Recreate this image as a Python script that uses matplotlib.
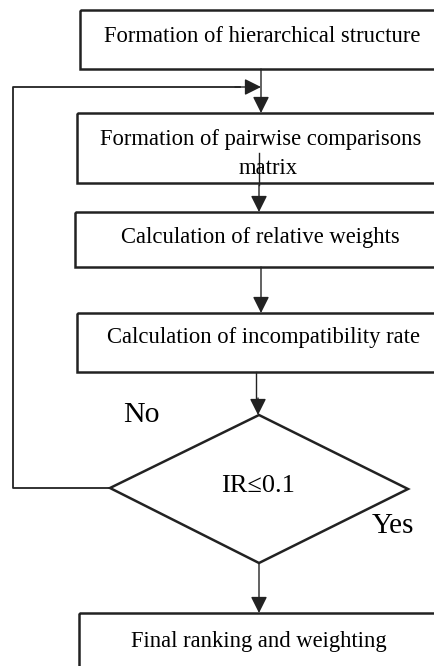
import matplotlib.pyplot as plt
from matplotlib.patches import Rectangle, Polygon

# flowchart text
steps = [
    "Formation of hierarchical structure",
    "Formation of pairwise comparisons\nmatrix",
    "Calculation of relative weights",
    "Calculation of incompatibility rate",
]
decision = "IR\u22640.1"
final_step = "Final ranking and weighting"
branch_labels = ["No", "Yes"]

# layout in pixel units (y grows downward)
box_x = [80, 77, 75, 77]
box_top = [10, 113, 212, 313]
box_bot = [69, 183, 267, 372]
text_x = [262, 261, 260, 264]
text_y = [36, 140, 238, 338]
box_right = 445
cx = 261

W, H = 435, 666
fig = plt.figure(figsize=(W / 100, H / 100), dpi=100)
ax = fig.add_axes([0, 0, 1, 1])
ax.set_xlim(0, W)
ax.set_ylim(H, 0)
ax.axis("off")

font = dict(family="Liberation Serif", color="black")
ink = "#222222"


def arrow(x0, y0, x1, y1):
    ax.annotate("", xy=(x1, y1), xytext=(x0, y0),
                arrowprops=dict(arrowstyle="-|>,head_length=0.5,head_width=0.25",
                                color=ink, lw=1.0, mutation_scale=20,
                                shrinkA=0, shrinkB=0))


for i, label in enumerate(steps):
    ax.add_patch(Rectangle((box_x[i], box_top[i]), box_right - box_x[i],
                           box_bot[i] - box_top[i], fill=False,
                           edgecolor=ink, lw=1.8))
    if "\n" in label:
        first, second = label.split("\n")
        ax.text(text_x[i], text_y[i], first, ha="center", va="center",
                fontsize=16.3, **font)
        ax.text(268, 168, second, ha="center", va="center", fontsize=16.3, **font)
    else:
        ax.text(text_x[i], text_y[i], label, ha="center", va="center",
                fontsize=16.3, **font)

# arrows between boxes
arrow(cx, 69, cx, 113)
ax.plot([259, 259], [153, 185], color=ink, lw=1.0)
arrow(259, 185, 259, 212)
arrow(cx, 267, cx, 313)
ax.plot([256, 256], [372, 398], color=ink, lw=1.0)
arrow(258, 398, 258, 415)

# decision diamond
diamond = Polygon([(259, 415), (408, 489), (259, 563), (110, 488)], closed=True,
                  fill=False, edgecolor=ink, lw=1.8)
ax.add_patch(diamond)
ax.text(258, 486, decision, ha="center", va="center", fontsize=19, **font)
ax.text(141, 422, branch_labels[0], ha="center", va="baseline", fontsize=21.5, **font)
ax.text(393, 533, branch_labels[1], ha="center", va="baseline", fontsize=21, **font)

# feedback loop
ax.plot([110, 13, 13, 240], [488, 488, 87, 87], color=ink, lw=1.3)
arrow(235, 87, 261, 87)

# final step
arrow(259, 563, 259, 613)
ax.add_patch(Rectangle((79, 613), box_right - 79, 80, fill=False,
                       edgecolor=ink, lw=1.8))
ax.text(259, 641, final_step, ha="center", va="center", fontsize=16.3, **font)

fig.savefig("out.png", dpi=100)
